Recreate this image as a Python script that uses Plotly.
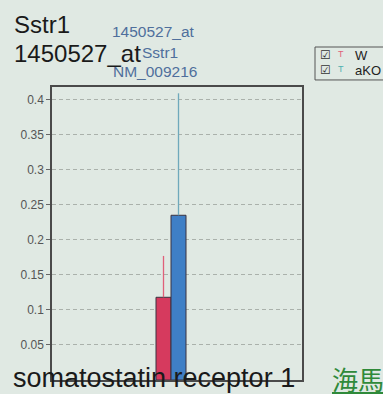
import plotly.graph_objects as go

# Expression of Sstr1 (probe 1450527_at) in two groups
groups = ["W", "aKO"]
means = [0.118, 0.235]
err_up = [0.059, 0.174]
bar_colors = ["#d63a5e", "#3f7fc6"]
err_colors = ["#e0607a", "#6fa9bb"]
y_ticks = [0.05, 0.1, 0.15, 0.2, 0.25, 0.3, 0.35, 0.4]
y_tick_text = ["0.05", "0.1", "0.15", "0.2", "0.25", "0.3", "0.35", "0.4"]

BG = "#e0e9e3"
FONT = "Liberation Sans, Arial, sans-serif"

fig = go.Figure()
offsets = [-0.06, 0.0]
for name, m, e, bc, ec, off in zip(groups, means, err_up, bar_colors, err_colors, offsets):
    fig.add_trace(go.Bar(
        x=[0], y=[m], name=name, width=0.06, offset=off,
        marker=dict(color=bc, line=dict(color="#3a3340", width=1)),
        error_y=dict(type="data", symmetric=False, array=[e], arrayminus=[0],
                     color=ec, thickness=1.3, width=0),
        showlegend=False,
    ))

fig.update_layout(
    width=383, height=394,
    margin=dict(l=52, r=81, t=87, b=14),
    paper_bgcolor=BG, plot_bgcolor=BG,
    barmode="overlay",
    font=dict(family=FONT, color="#222"),
    xaxis=dict(range=[-0.476, 0.524], showticklabels=False, showgrid=False,
               zeroline=False, ticks="", showline=True, linecolor="#4a4a4a",
               linewidth=1.5, mirror=True),
    yaxis=dict(range=[0, 0.418], tickvals=y_ticks, ticktext=y_tick_text,
               showgrid=True, gridcolor="#aab1ab", griddash="4px,3px", gridwidth=1,
               zeroline=False, ticks="outside", ticklen=4, tickcolor="#666",
               tickfont=dict(size=12, color="#555"),
               showline=True, linecolor="#4a4a4a", linewidth=1.5, mirror=True),
)

# Gene title at top left
fig.add_annotation(xref="paper", yref="paper", x=-0.16, y=1.212, xanchor="left",
                   yanchor="middle", text="Sstr1", showarrow=False,
                   font=dict(size=24, color="#1a1a1a", family=FONT))
fig.add_annotation(xref="paper", yref="paper", x=-0.16, y=1.113, xanchor="left",
                   yanchor="middle", text="1450527_at", showarrow=False,
                   font=dict(size=24, color="#1a1a1a", family=FONT))

# Probe annotation in blue above the bars
probe_lines = ["1450527_at", "Sstr1", "NM_009216"]
probe_y = [1.19, 1.117, 1.052]
probe_x = [0.405, 0.43, 0.412]
for t, yy, xx in zip(probe_lines, probe_y, probe_x):
    fig.add_annotation(xref="paper", yref="paper", x=xx, y=yy, xanchor="center",
                       yanchor="middle", text=t, showarrow=False,
                       font=dict(size=15.5, color="#4f6f9c", family=FONT))

# Custom legend box
fig.add_shape(type="rect", xref="paper", yref="paper", x0=1.052, x1=1.40,
              y0=1.024, y1=1.1365, line=dict(color="#555", width=1), fillcolor=BG)
legend_y = [1.109, 1.058]
for name, ec, yy in zip(groups, ["#e0607a", "#4fb0b0"], legend_y):
    fig.add_annotation(xref="paper", yref="paper", x=1.092, y=yy, xanchor="center",
                       yanchor="middle", text="☑", showarrow=False,
                       font=dict(size=12, color="#333", family="DejaVu Sans"))
    fig.add_annotation(xref="paper", yref="paper", x=1.156, y=yy + 0.004, xanchor="center",
                       yanchor="middle", text="T", showarrow=False,
                       font=dict(size=9, color=ec, family=FONT))
    fig.add_annotation(xref="paper", yref="paper", x=1.204, y=yy, xanchor="left",
                       yanchor="middle", text=name, showarrow=False,
                       font=dict(size=13, color="#222", family=FONT))

# Gene description along the bottom
fig.add_annotation(xref="paper", yref="paper", x=-0.165, y=0.007, xanchor="left",
                   yanchor="middle", text="somatostatin receptor 1", showarrow=False,
                   font=dict(size=27, color="#1a1a1a", family=FONT))
fig.add_annotation(xref="paper", yref="paper", x=1.112, y=0.004, xanchor="left",
                   yanchor="middle", text="<u>海馬</u>", showarrow=False,
                   font=dict(size=26, color="#2f8a3a", family="Noto Sans CJK JP"))

fig.write_html("out.html")
